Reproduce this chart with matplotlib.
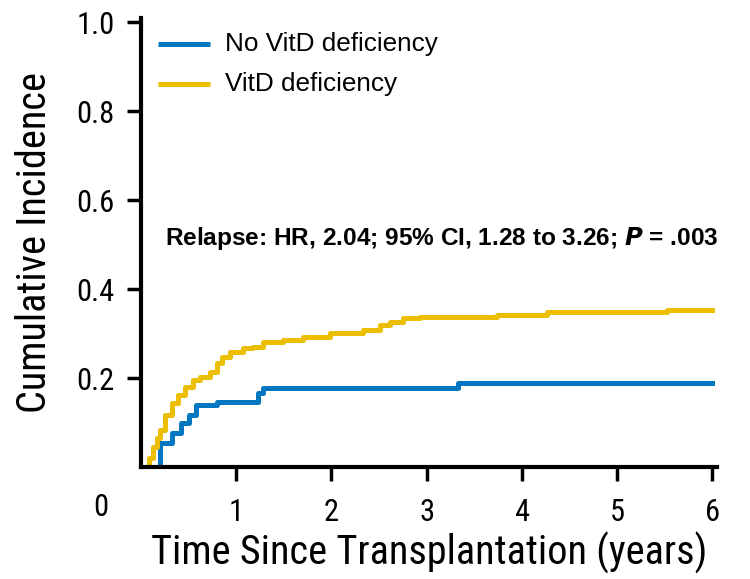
import matplotlib
matplotlib.use("Agg")
import matplotlib.pyplot as plt
from matplotlib import font_manager

# Data
no_def_t = [0.13, 0.20, 0.24, 0.33, 0.42, 0.50, 0.58, 0.80, 1.23, 1.28, 3.33, 6.00]
no_def_y = [0.00, 0.054, 0.055, 0.076, 0.099, 0.117, 0.139, 0.146, 0.166, 0.178, 0.189, 0.189]

def_t = [0.02, 0.08, 0.13, 0.17, 0.20, 0.25, 0.33, 0.39, 0.46, 0.55, 0.62, 0.72, 0.80, 0.85,
         0.93, 1.07, 1.18, 1.28, 1.49, 1.70, 1.99, 2.33, 2.51, 2.62, 2.75, 2.93, 3.74, 4.26, 5.53, 6.00]
def_y = [0.00, 0.02, 0.045, 0.065, 0.083, 0.117, 0.144, 0.162, 0.18, 0.195, 0.202, 0.213, 0.233, 0.248,
         0.258, 0.267, 0.27, 0.281, 0.285, 0.292, 0.301, 0.308, 0.319, 0.326, 0.335, 0.337, 0.342, 0.348, 0.353, 0.353]

x_ticks = [1, 2, 3, 4, 5, 6]
y_ticks = [0.2, 0.4, 0.6, 0.8, 1.0]
y_tick_labels = ["0.2", "0.4", "0.6", "0.8", "1.0"]
series_names = ["No VitD deficiency", "VitD deficiency"]

blue = "#0077C0"
yellow = "#EBBE00"

# pick a condensed family if one is installed
names = {f.name for f in font_manager.fontManager.ttflist}
cond = None
for cand in ["Liberation Sans Narrow", "Roboto Condensed", "Open Sans Condensed",
             "DejaVu Sans Condensed", "Noto Sans Condensed"]:
    if cand in names:
        cond = cand
        break
regular = ["Liberation Sans", "DejaVu Sans"]
if cond:
    narrow = [cond, "Liberation Sans", "DejaVu Sans"]
    lab_fs, tick_fs = 29, 22
else:
    narrow = regular
    lab_fs, tick_fs = 26, 18

fig = plt.figure(figsize=(7.5, 5.79), dpi=100)
ax = fig.add_axes([141/750, (579-467)/579, (717-141)/750, (467-18)/579])

ax.step(no_def_t, no_def_y, where="post", color=blue, lw=3.6)
ax.step(def_t, def_y, where="post", color=yellow, lw=3.6)

ax.set_xlim(0, 6.05)
ax.set_ylim(0, 1.01)
for s in ["top", "right"]:
    ax.spines[s].set_visible(False)
for s in ["left", "bottom"]:
    ax.spines[s].set_linewidth(3.0)
ax.set_xticks(x_ticks)
ax.set_xticklabels([str(v) for v in x_ticks], family=narrow, fontsize=tick_fs)
ax.set_yticks(y_ticks)
ax.set_yticklabels(y_tick_labels, family=narrow, fontsize=tick_fs)
ax.tick_params(axis="both", length=10, width=2.5, direction="out")
ax.tick_params(axis="x", pad=12)
ax.tick_params(axis="y", pad=9)
ax.text(-0.42, -0.092, "0", family=narrow, fontsize=tick_fs, ha="center", va="center",
        transform=ax.transData, clip_on=False)

ax.set_xlabel("Time Since Transplantation (years)", family=narrow, fontsize=lab_fs, labelpad=4)
ax.set_ylabel("Cumulative Incidence", family=narrow, fontsize=lab_fs, labelpad=16)

# legend drawn manually
ax.plot([0.18, 0.72], [0.952, 0.952], color=blue, lw=3.6, solid_capstyle="butt")
ax.plot([0.18, 0.72], [0.862, 0.862], color=yellow, lw=3.6, solid_capstyle="butt")
ax.text(0.88, 0.952, series_names[0], family=regular, fontsize=18.8, va="center")
ax.text(0.88, 0.862, series_names[1], family=regular, fontsize=18.8, va="center")

ax.text(0.25, 0.515, r"Relapse: HR, 2.04; 95% CI, 1.28 to 3.26; $\boldsymbol{P}$ = .003",
        family=regular, fontsize=17.6, fontweight="bold", va="center", clip_on=False)

fig.savefig("out.png", dpi=100)
